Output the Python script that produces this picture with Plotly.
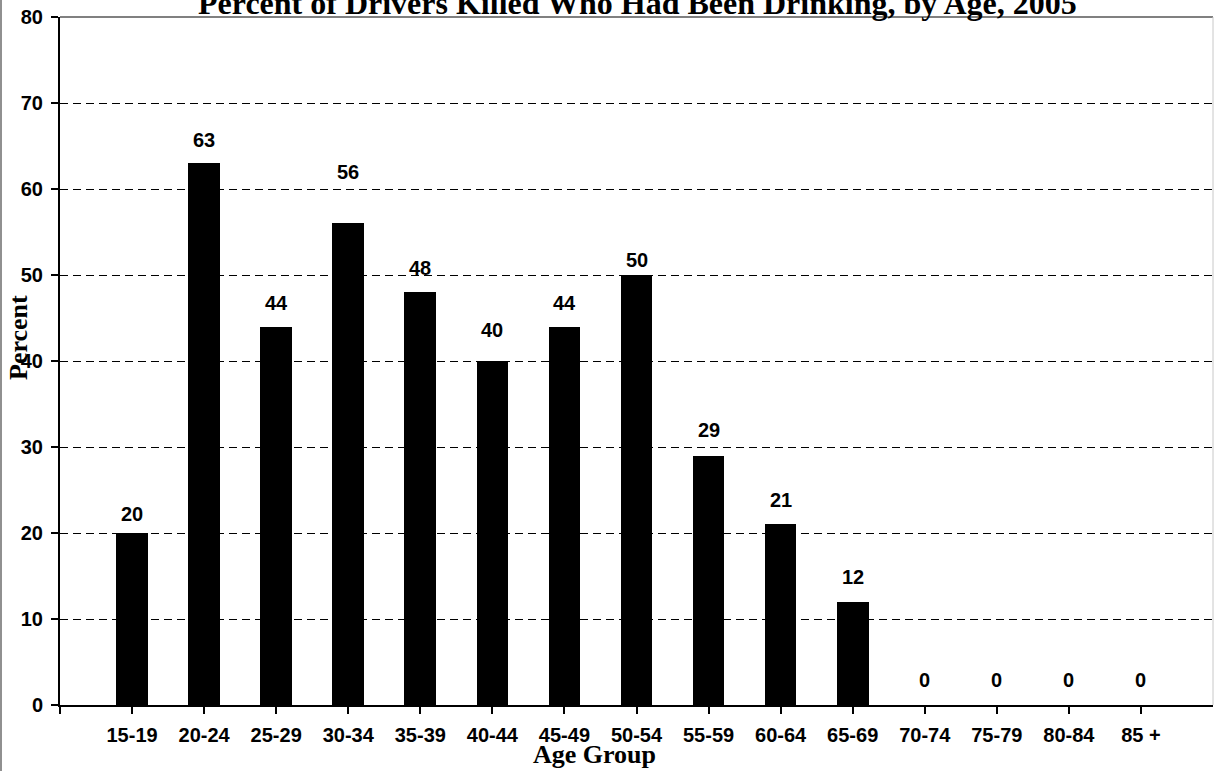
import plotly.graph_objects as go

categories = ["15-19", "20-24", "25-29", "30-34", "35-39", "40-44", "45-49",
              "50-54", "55-59", "60-64", "65-69", "70-74", "75-79", "80-84", "85 +"]
percent = [20, 63, 44, 56, 48, 40, 44, 50, 29, 21, 12, 0, 0, 0, 0]
y_ticks = [0, 10, 20, 30, 40, 50, 60, 70, 80]

title_text = "Percent of Drivers Killed Who Had Been Drinking, by Age, 2005"
x_title = "Age Group"
y_title = "Percent"

# style: pixel offsets of the data labels above the bar tops
label_shift = [19, 23, 24, 51, 24, 31, 24, 15, 26, 24, 25, 25, 25, 25, 25]

W, H = 1215, 771
L, R, T, B = 60, 2, 17, 66
pw, ph = W - L - R, H - T - B

xpos = list(range(len(categories)))

fig = go.Figure()
fig.add_trace(go.Bar(x=xpos, y=percent, width=0.44,
                     marker=dict(color="black", line=dict(width=0)),
                     hoverinfo="skip"))

annotations = []
for i, v in enumerate(percent):
    annotations.append(dict(x=xpos[i], y=v, xref="x", yref="y", text="<b>%d</b>" % v,
                            showarrow=False, yanchor="middle", yshift=label_shift[i],
                            font=dict(family="Liberation Sans, Arial", size=20, color="black")))

def px_x(p):
    return (p - L) / pw

def px_y(p):
    return (H - B - p) / ph

annotations.append(dict(x=px_x(637), y=px_y(23), xref="paper", yref="paper",
                        text="<b>%s</b>" % title_text, showarrow=False,
                        xanchor="center", yanchor="bottom",
                        font=dict(family="Liberation Serif, Times New Roman", size=32, color="black")))
annotations.append(dict(x=px_x(594.5), y=px_y(755), xref="paper", yref="paper",
                        text="<b>%s</b>" % x_title, showarrow=False,
                        xanchor="center", yanchor="middle",
                        font=dict(family="Liberation Serif, Times New Roman", size=26, color="black")))
annotations.append(dict(x=px_x(18), y=px_y(338), xref="paper", yref="paper",
                        text="<b>%s</b>" % y_title, showarrow=False, textangle=-90,
                        xanchor="center", yanchor="middle",
                        font=dict(family="Liberation Serif, Times New Roman", size=26, color="black")))

shapes = [
    dict(type="line", xref="paper", yref="paper", x0=0, x1=1, y0=1, y1=1,
         line=dict(color="#808080", width=2)),
    dict(type="line", xref="paper", yref="paper", x0=1, x1=1, y0=0, y1=1,
         line=dict(color="#c8c8c8", width=1)),
    dict(type="line", xref="paper", yref="paper", x0=px_x(1), x1=px_x(1), y0=px_y(H), y1=px_y(0),
         line=dict(color="#909090", width=2)),
]

tickfont = dict(family="Liberation Sans, Arial", size=20, color="black", weight="bold")

fig.update_layout(
    width=W, height=H,
    margin=dict(l=L, r=R, t=T, b=B, pad=0, autoexpand=False),
    paper_bgcolor="white", plot_bgcolor="white",
    showlegend=False,
    bargap=0,
    annotations=annotations,
    shapes=shapes,
    xaxis=dict(range=[-1, len(categories)], tickmode="array",
               tickvals=[-1] + xpos, ticktext=[""] + categories,
               showgrid=False, zeroline=False, showline=True, linecolor="black", linewidth=2,
               ticks="outside", ticklen=7, tickwidth=2, tickcolor="black",
               ticklabelstandoff=4,
               tickfont=tickfont, automargin=False, fixedrange=True),
    yaxis=dict(range=[0, 80], tickmode="array", tickvals=y_ticks,
               showgrid=True, gridcolor="black", gridwidth=1, griddash="8px,5px",
               zeroline=False, showline=True, linecolor="black", linewidth=2,
               ticks="outside", ticklen=7, tickwidth=2, tickcolor="black",
               ticklabelstandoff=4,
               tickfont=tickfont, automargin=False, fixedrange=True),
)

fig.write_html("out.html", config={"displayModeBar": False},
               post_script="document.body.style.margin='0';")
